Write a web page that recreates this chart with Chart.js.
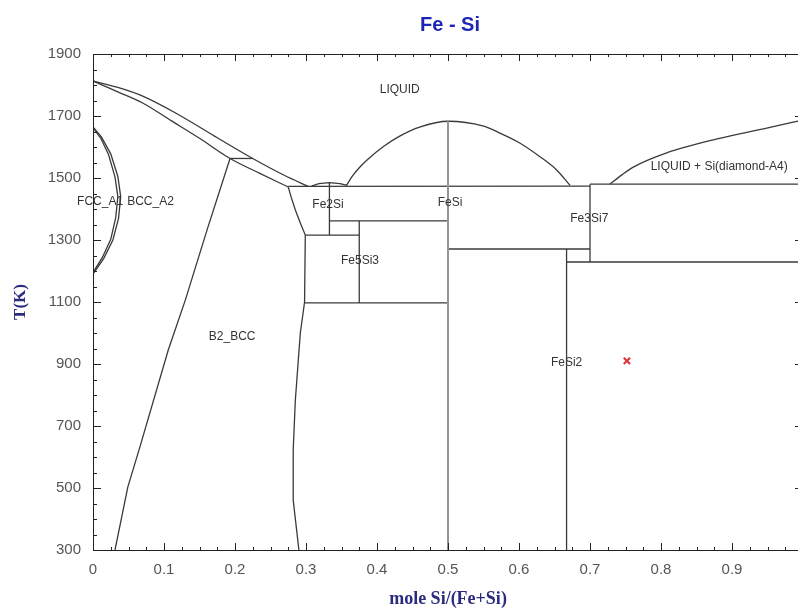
<!DOCTYPE html>
<html>
<head>
<meta charset="utf-8">
<title>Fe - Si</title>
<script src="https://cdn.jsdelivr.net/npm/chart.js@4.4.1/dist/chart.umd.min.js"></script>
<style>
  html, body { margin: 0; padding: 0; background: #fff; overflow: hidden; }
  canvas { display: block; }
</style>
</head>
<body>
<canvas id="phase" width="900" height="610"></canvas>
<script>
// phase boundaries, [mole fraction Si, T in K]
const liquidusFe = [[0, 1813], [0.035, 1792], [0.07, 1764], [0.12, 1705], [0.175, 1630], [0.225, 1563], [0.27, 1508], [0.303, 1473]];
const solidusBcc = [[0, 1813], [0.035, 1778], [0.07, 1742], [0.11, 1685], [0.15, 1628], [0.193, 1563], [0.235, 1515], [0.275, 1471]];
const peritectic = [[0.193, 1563], [0.225, 1563]];
const a2b2 = [[0.193, 1563], [0.161, 1335], [0.13, 1106], [0.106, 945], [0.066, 632], [0.049, 503], [0.031, 300]];
const fccOuter = [[0, 1665], [0.012, 1632], [0.025, 1578], [0.035, 1505], [0.039, 1440], [0.036, 1370], [0.028, 1300], [0.015, 1240], [0, 1190]];
const fccInner = [[0, 1662], [0.011, 1628], [0.022, 1575], [0.031, 1503], [0.035, 1440], [0.032, 1372], [0.025, 1302], [0.013, 1243], [0, 1195]];
const fe3siEdge = [[0.275, 1471], [0.279, 1439], [0.285, 1397], [0.292, 1355], [0.299, 1316], [0.298, 1100], [0.292, 1000], [0.285, 784], [0.282, 623], [0.282, 461], [0.29, 300]];
const eutecticLow = [[0.275, 1473], [0.70, 1474]];
const eutecticSi = [[0.70, 1480], [1.0, 1480]];
const fe2siDome = [[0.308, 1474], [0.318, 1482], [0.333, 1485], [0.348, 1482], [0.358, 1476]];
const fe2siLine = [[0.333, 1485], [0.333, 1316]];
const line1316 = [[0.299, 1316], [0.375, 1316]];
const line1362 = [[0.333, 1362], [0.5, 1362]];
const fe5si3Line = [[0.375, 1362], [0.375, 1097]];
const line1097 = [[0.298, 1097], [0.5, 1097]];
const fesiLine = [[0.5, 1683], [0.5, 300]];
const fesiLiquidus = [[0.357, 1476], [0.365, 1505], [0.375, 1533], [0.386, 1558], [0.41, 1603], [0.432, 1635], [0.46, 1664], [0.5, 1683],
  [0.549, 1668], [0.573, 1645], [0.601, 1613], [0.63, 1568], [0.653, 1526], [0.672, 1476]];
const line1271 = [[0.5, 1271], [0.70, 1271]];
const fesi2Line = [[0.667, 1271], [0.667, 300]];
const fe3si7Line = [[0.70, 1480], [0.70, 1229]];
const line1229 = [[0.667, 1229], [1.0, 1229]];
const liquidusSi = [[0.728, 1480], [0.745, 1510], [0.761, 1535], [0.808, 1581], [0.879, 1626], [0.949, 1661], [1.0, 1687]];
const marker = [[0.752, 910]];

// phase names
const labelText = ["LIQUID", "FCC_A1", "BCC_A2", "Fe2Si", "FeSi", "Fe5Si3", "Fe3Si7", "B2_BCC", "FeSi2", "LIQUID + Si(diamond-A4)"];
const labelX = [0.432, 0.010, 0.081, 0.331, 0.503, 0.376, 0.699, 0.196, 0.667, 0.882];
const labelT = [1784, 1423, 1423, 1413, 1419, 1232, 1368, 987, 903, 1536];

// axes
const xMin = 0, xMax = 1, xStep = 0.1, xMinorStep = 0.025;
const tMin = 300, tMax = 1900, tStep = 200, tMinorStep = 50;

const curves = [liquidusFe, solidusBcc, fesiLiquidus, liquidusSi];
const boundaries = [liquidusFe, solidusBcc, peritectic, a2b2, fccOuter, fccInner, fe3siEdge, eutecticLow, eutecticSi,
  fe2siDome, fe2siLine, line1316, line1362, fe5si3Line, line1097, fesiLiquidus, line1271, fesi2Line, fe3si7Line,
  line1229, liquidusSi];

function toPoints(pairs) {
  return pairs.map(([x, t]) => ({x: x, y: t}));
}

const datasets = boundaries.map((pairs) => ({
  data: toPoints(pairs),
  showLine: true,
  borderColor: "#3a3a3a",
  borderWidth: 1.3,
  pointRadius: 0,
  cubicInterpolationMode: curves.includes(pairs) ? "monotone" : "default",
  tension: 0,
}));

// FeSi line is drawn lighter and wider, on top of the others
datasets.unshift({
  data: toPoints(fesiLine),
  showLine: true,
  borderColor: "#949494",
  borderWidth: 2,
  pointRadius: 0,
});

datasets.unshift({
  data: toPoints(marker),
  showLine: false,
  pointStyle: "crossRot",
  pointRadius: 4.5,
  borderColor: "#e0303a",
  borderWidth: 2,
});

// frame, inward ticks and phase names
const framePlugin = {
  id: "framePlugin",
  afterDatasetsDraw(chart) {
    const {ctx, chartArea: a, scales: {x, y}} = chart;
    ctx.save();
    ctx.strokeStyle = "#222";
    ctx.lineWidth = 1;
    ctx.strokeRect(a.left + 0.5, a.top + 0.5, a.right - a.left, a.bottom - a.top);

    ctx.beginPath();
    const nx = Math.round((xMax - xMin) / xMinorStep);
    for (let i = 0; i <= nx; i++) {
      const px = Math.round(x.getPixelForValue(xMin + i * xMinorStep)) + 0.5;
      const len = i % 4 === 0 ? 7 : 3;
      ctx.moveTo(px, a.bottom);
      ctx.lineTo(px, a.bottom - len);
      ctx.moveTo(px, a.top);
      ctx.lineTo(px, a.top + len);
    }
    for (let t = tMin; t <= tMax; t += tMinorStep) {
      const py = Math.round(y.getPixelForValue(t)) + 0.5;
      const len = (t - tMin) % tStep === 0 ? 8 : 4;
      ctx.moveTo(a.left, py);
      ctx.lineTo(a.left + len, py);
      ctx.moveTo(a.right, py);
      ctx.lineTo(a.right - len, py);
    }
    ctx.stroke();

    ctx.fillStyle = "#333";
    ctx.font = "12px 'Liberation Sans', Arial, sans-serif";
    ctx.textAlign = "center";
    ctx.textBaseline = "middle";
    labelText.forEach((text, i) => {
      ctx.fillText(text, x.getPixelForValue(labelX[i]), y.getPixelForValue(labelT[i]));
    });
    ctx.restore();
  },
};

new Chart(document.getElementById("phase"), {
  type: "scatter",
  data: {datasets: datasets},
  options: {
    responsive: false,
    animation: false,
    devicePixelRatio: 1,
    layout: {padding: 0},
    plugins: {
      legend: {display: false},
      tooltip: {enabled: false},
      title: {
        display: true,
        text: "Fe - Si",
        color: "#1e24b8",
        font: {family: "'Liberation Sans', Arial, sans-serif", size: 20, weight: "bold"},
        padding: {top: 13, bottom: 17},
      },
    },
    scales: {
      x: {
        type: "linear",
        min: xMin,
        max: xMax,
        grid: {display: false, drawTicks: false},
        border: {display: false},
        afterFit(scale) { scale.height = 60; },
        ticks: {
          stepSize: xStep,
          padding: 11,
          color: "#555",
          font: {family: "'Liberation Sans', Arial, sans-serif", size: 15},
          callback: (v) => (v >= xMax ? "" : String(Math.round(v * 10) / 10)),
        },
        title: {
          display: true,
          text: "mole Si/(Fe+Si)",
          color: "#2b2b80",
          font: {family: "'Liberation Serif', 'Times New Roman', serif", size: 18, weight: "bold"},
          padding: {top: 0, bottom: 0},
        },
      },
      y: {
        type: "linear",
        min: tMin,
        max: tMax,
        grid: {display: false, drawTicks: false},
        border: {display: false},
        afterFit(scale) { scale.width = 93; },
        ticks: {
          stepSize: tStep,
          padding: 12,
          color: "#555",
          font: {family: "'Liberation Sans', Arial, sans-serif", size: 15},
          callback: (v) => String(v),
        },
        title: {
          display: true,
          text: "T(K)",
          color: "#2b2b80",
          font: {family: "'Liberation Serif', 'Times New Roman', serif", size: 17, weight: "bold"},
          padding: {top: 10, bottom: 0},
        },
      },
      yRight: {
        type: "linear",
        position: "right",
        min: tMin,
        max: tMax,
        grid: {display: false, drawTicks: false},
        border: {display: false},
        ticks: {display: false},
        afterFit(scale) { scale.width = 97; },
      },
    },
  },
  plugins: [framePlugin],
});
</script>
</body>
</html>
